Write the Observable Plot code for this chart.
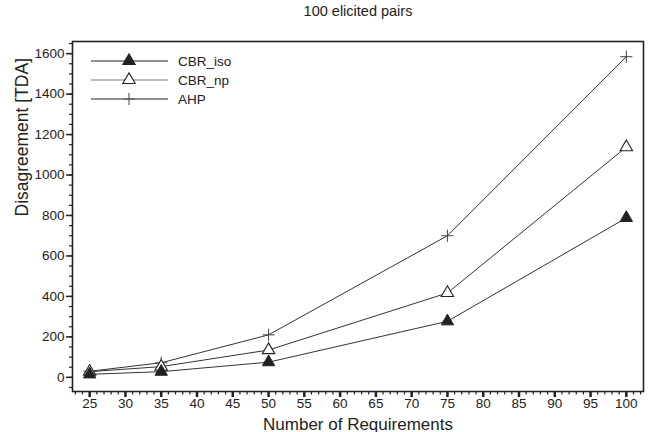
<!DOCTYPE html>
<html><head><meta charset="utf-8">
<script src="https://cdn.jsdelivr.net/npm/d3@7"></script>
<script src="https://cdn.jsdelivr.net/npm/@observablehq/plot@0.6"></script>
<style>
body{margin:0;background:#fff;}
#chart{position:relative;width:651px;height:432px;font-family:"Liberation Sans",Arial,Helvetica,sans-serif;}
#legend{position:absolute;left:0;top:0;}
</style></head><body><div id="chart"></div>
<script>
const requirements = [25, 35, 50, 75, 100];
const cbrIso = [15, 28, 75, 277, 788];
const cbrNp = [28, 53, 135, 417, 1138];
const ahp = [30, 72, 210, 700, 1585];
const seriesNames = ["CBR_iso", "CBR_np", "AHP"];
const xMajorTicks = d3.range(25, 101, 5);
const xMinorTicks = d3.range(23, 103, 1);
const yMajorTicks = [0, 200, 400, 600, 800, 1000, 1200, 1400, 1600];
const yMinorTicks = d3.range(-50, 1651, 50);
const titleText = "100 elicited pairs";
const xLabel = "Number of Requirements";
const yLabel = "Disagreement [TDA]";

const seriesValues = [cbrIso, cbrNp, ahp];
const rows = [];
seriesNames.forEach((s, i) => requirements.forEach((r, j) => rows.push({series: s, x: r, y: seriesValues[i][j]})));
const iso = rows.filter(d => d.series === "CBR_iso");
const np = rows.filter(d => d.series === "CBR_np");
const ah = rows.filter(d => d.series === "AHP");

const ink = "#222";
const chart = Plot.plot({
  width: 651,
  height: 432,
  marginLeft: 72,
  marginRight: 8,
  marginTop: 41,
  marginBottom: 41,
  style: {fontFamily: "Liberation Sans, Arial, Helvetica, sans-serif", fontSize: "13px", background: "white", color: ink, overflow: "visible"},
  x: {domain: [22.6, 102.4]},
  y: {domain: [-70, 1660]},
  marks: [
    Plot.axisY(yMinorTicks, {tickSize: 3, tickFormat: () => "", label: null, strokeWidth: 1.2}),
    Plot.axisY(yMajorTicks, {tickSize: 6, tickPadding: 2, fontSize: 13.5, tickFormat: d3.format("d"), label: null, strokeWidth: 1.5}),
    Plot.axisX(xMinorTicks, {tickSize: 3.5, tickFormat: () => "", label: null, strokeWidth: 1.2}),
    Plot.axisX(xMajorTicks, {tickSize: 6, tickPadding: 1, fontSize: 13.5, label: null, strokeWidth: 2.5}),
    Plot.frame({stroke: ink, strokeWidth: 1.6}),
    Plot.line(rows, {x: "x", y: "y", z: "series", stroke: "#333", strokeWidth: 1}),
    Plot.dot(ah, {x: "x", y: "y", symbol: "plus", r: 4, stroke: "#444", strokeWidth: 1}),
    Plot.dot(np, {x: "x", y: "y", symbol: "triangle", r: 4.6, fill: "white", stroke: ink, strokeWidth: 1.1}),
    Plot.dot(iso, {x: "x", y: "y", symbol: "triangle", r: 4.6, fill: ink, stroke: ink, strokeWidth: 1}),
    Plot.text([titleText], {frameAnchor: "top", dy: -36, fontSize: 14.5, fill: ink}),
    Plot.text([xLabel], {frameAnchor: "bottom", dy: 38, fontSize: 17, fill: ink}),
    Plot.text([yLabel], {frameAnchor: "left", rotate: -90, dx: -50, fontSize: 17.5, fill: ink})
  ]
});
document.getElementById("chart").appendChild(chart);

// legend overlay
const legendSymbols = [
  {name: seriesNames[0], sym: d3.symbolTriangle, fill: ink, stroke: ink, line: "#222"},
  {name: seriesNames[1], sym: d3.symbolTriangle, fill: "white", stroke: ink, line: "#777"},
  {name: seriesNames[2], sym: d3.symbolPlus, fill: "none", stroke: "#555", line: "#222"}
];
const lg = d3.select("#chart").append("svg").attr("id", "legend").attr("width", 651).attr("height", 432);
legendSymbols.forEach((d, i) => {
  const cy = 61 + i * 19;
  const g = lg.append("g");
  g.append("line").attr("x1", 91).attr("x2", 168).attr("y1", cy).attr("y2", cy).attr("stroke", d.line).attr("stroke-width", 1);
  const size = d.sym === d3.symbolPlus ? 48 : 66;
  g.append("path").attr("d", d3.symbol(d.sym, size)()).attr("transform", `translate(129,${cy})`)
    .attr("fill", d.fill).attr("stroke", d.stroke).attr("stroke-width", 1.1);
  g.append("text").attr("x", 178).attr("y", cy).attr("dy", "0.35em").attr("font-size", 13.5).attr("fill", ink)
    .attr("font-family", "Liberation Sans, Arial, sans-serif").text(d.name);
});
</script></body></html>
